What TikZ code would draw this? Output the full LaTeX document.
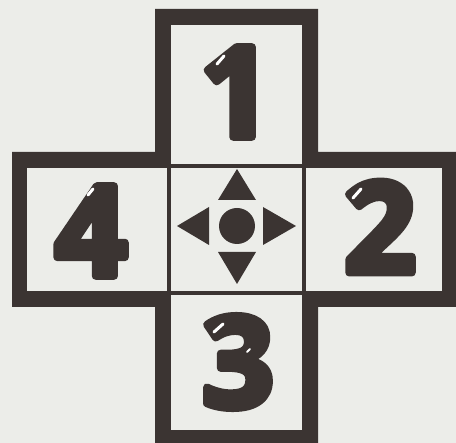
\documentclass[tikz,border=0pt]{standalone}
\usepackage{fontspec}
\newfontfamily\bubblefont{Open Sans}[BoldFeatures={FakeBold=6}]
\definecolor{padink}{HTML}{3B3432}
\definecolor{padpaper}{HTML}{ECEDE9}
\newcommand\roundjoin{\special{pdf:literal direct 1 j 1 J}}

\begin{document}
\begin{tikzpicture}[x=1pt, y=-1pt,
  cell/.style={fill=padpaper, inner sep=0pt},
  digit/.style={font=\bubblefont\bfseries\fontsize{126}{126}\selectfont, text=padink, inner sep=0pt},
  shine/.style={draw=white, line width=3pt, line cap=round}]
\useasboundingbox (0,0) rectangle (456,443);
\clip (0,0) rectangle (456,443);
\fill[padpaper] (0,0) rectangle (456,443);
% thick frame of the cross
\fill[padink] (155,9) -- (318,9) -- (318,152) -- (460,152) -- (460,307) -- (318,307)
  -- (318,460) -- (155,460) -- (155,307) -- (12,307) -- (12,152) -- (155,152) -- cycle;
% the five fields
\node[cell, minimum width=131pt, minimum height=139pt] (upcell) at (236.5,94.5) {};
\node[cell, minimum width=140pt, minimum height=123pt] (leftcell) at (97,229.5) {};
\node[cell, minimum width=131pt, minimum height=123pt] (midcell) at (236.5,229.5) {};
\node[cell, minimum width=136pt, minimum height=123pt] (rightcell) at (374,229.5) {};
\node[cell, minimum width=131pt, minimum height=135pt] (downcell) at (236.5,362.5) {};
% numbers
\node[digit] (one) at (236,92) {\roundjoin 1};
\node[digit] (four) at (91,231) {\roundjoin 4};
\node[digit] (two) at (380,227) {\roundjoin 2};
\node[digit] (three) at (238,362) {\roundjoin 3};
\draw[shine] (217,64) -- (224,56);
\draw[shine] (88,195) -- (93,189);
\draw[shine] (353,198) -- (361,189);
\draw[shine] (214,332) -- (223,324);
\draw[shine, line width=2pt] (247,352) -- (250,349);
% direction pad
\node[circle, fill=padink, minimum size=36pt, inner sep=0pt] (hub) at (237,226) {};
\fill[padink] (237,169) -- (256,200) -- (218,200) -- cycle;
\fill[padink] (237,284) -- (256,252) -- (218,252) -- cycle;
\fill[padink] (177,226) -- (209,207) -- (209,245) -- cycle;
\fill[padink] (296,226) -- (263,207) -- (263,245) -- cycle;
\end{tikzpicture}
\end{document}
